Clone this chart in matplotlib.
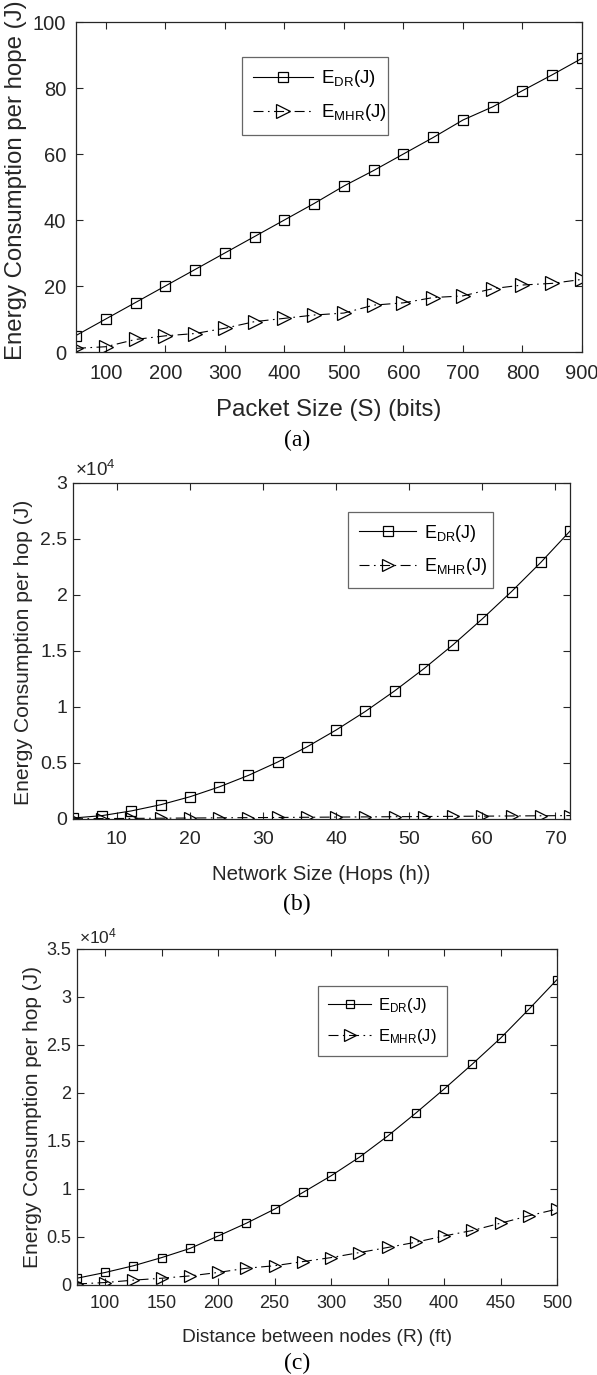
import matplotlib
matplotlib.use('Agg')
import matplotlib.pyplot as plt
from matplotlib.ticker import FuncFormatter

plt.rcParams['font.family'] = ['Liberation Sans', 'DejaVu Sans']
plt.rcParams['mathtext.fontset'] = 'custom'
plt.rcParams['mathtext.rm'] = 'Liberation Sans'
plt.rcParams['mathtext.it'] = 'Liberation Sans'

# (a) energy vs packet size
packet_size = [50, 100, 150, 200, 250, 300, 350, 400, 450, 500,
               550, 600, 650, 700, 750, 800, 850, 900]
dr_a = [5, 10, 15, 20, 25, 30, 35, 40, 45, 50.3, 55, 60, 65, 70.3, 74.3, 79.2, 84, 89]
mhr_a = [1.1, 1.6, 3.8, 4.9, 5.6, 7.2, 9.2, 10.2, 11.2, 11.8, 14.2, 14.9, 16.5, 17, 19.2, 20.3, 20.8, 22]

# (b) energy vs network size
hops = [4, 8, 12, 16, 20, 24, 28, 32, 36, 40, 44, 48, 52, 56, 60, 64, 68, 72]
dr_b = [80, 300, 720, 1270, 1980, 2860, 3890, 5080, 6430, 7940, 9600,
        11430, 13410, 15550, 17860, 20300, 22900, 25700]
mhr_b = [17, 33, 50, 67, 83, 100, 117, 133, 150, 167, 183, 200,
         217, 233, 250, 267, 283, 300]

# (c) energy vs distance
distance = [75, 100, 125, 150, 175, 200, 225, 250, 275, 300,
            325, 350, 375, 400, 425, 450, 475, 500]
dr_c = [700, 1300, 2000, 2850, 3800, 5100, 6430, 7900, 9630, 11370,
        13300, 15500, 17900, 20400, 23000, 25700, 28700, 31800]
mhr_c = [100, 250, 500, 700, 940, 1300, 1740, 2000, 2430, 2850,
         3370, 3900, 4450, 5100, 5670, 6430, 7200, 7900]

labels = [r'$\mathregular{E_{DR}(J)}$', r'$\mathregular{E_{MHR}(J)}$']
ink = '#262626'

fig = plt.figure(figsize=(5.97, 13.75), dpi=100)

panels = [
    dict(rect=[0.1273, 0.744, 0.8476, 0.240], x=packet_size, dr=dr_a, mhr=mhr_a,
         xlim=(50, 900), xticks=range(100, 901, 100), ylim=(0, 100),
         yticks=range(0, 101, 20), sci=False,
         xlabel='Packet Size (S) (bits)', ylabel='Energy Consumption per hope (J)',
         xlab_y=-0.176, ylab_x=-0.118, ylab_y=0.52, tick_fs=14.5, xlab_fs=17.3, ylab_fs=17.3,
         xpad=8.5, ypad=7, leg=(0.328, 0.894, 0.289, 0.239), leg_fs=13.5, hl=3.2,
         expand=True, ms=7.5),
    dict(rect=[0.1223, 0.4044, 0.8325, 0.2444], x=hops, dr=dr_b, mhr=mhr_b,
         xlim=(4, 72), xticks=range(10, 71, 10), ylim=(0, 30000),
         yticks=range(0, 30001, 5000), sci=True,
         xlabel='Network Size (Hops (h))', ylabel='Energy Consumption per hop (J)',
         xlab_y=-0.164, ylab_x=-0.10, ylab_y=0.497, tick_fs=14, xlab_fs=14.8, ylab_fs=15.2,
         xpad=8.5, ypad=4, leg=(0.553, 0.914, 0.292, 0.221), leg_fs=13, hl=3.2,
         expand=True, ms=6.8),
    dict(rect=[0.129, 0.0655, 0.804, 0.2444], x=distance, dr=dr_c, mhr=mhr_c,
         xlim=(75, 500), xticks=range(100, 501, 50), ylim=(0, 35000),
         yticks=range(0, 35001, 5000), sci=True,
         xlabel='Distance between nodes (R) (ft)', ylabel='Energy Consumption per hop (J)',
         xlab_y=-0.155, ylab_x=-0.092, ylab_y=0.5, tick_fs=13, xlab_fs=13.8, ylab_fs=15,
         xpad=7.5, ypad=4, leg=(0.502, 0.89, 0.258, 0.205), leg_fs=12, hl=2.6,
         expand=False, ms=6.2),
]

captions = ['(a)', '(b)', '(c)']
caption_y = [0.68, 0.3425, 0.0087]

for p, cap, cy in zip(panels, captions, caption_y):
    ax = fig.add_axes(p['rect'])
    ax.plot(p['x'], p['dr'], '-', color='black', lw=0.8, marker='s', ms=p['ms'],
            mfc='none', mec='black', mew=0.9, label=labels[0])
    ax.plot(p['x'], p['mhr'], '-.', color='black', lw=0.8, marker='>', ms=p['ms'] + 2,
            mfc='none', mec='black', mew=0.9, label=labels[1], dashes=(9, 4, 1.5, 4))
    ax.set_xlim(p['xlim'])
    ax.set_ylim(p['ylim'])
    ax.set_xticks(list(p['xticks']))
    ax.set_yticks(list(p['yticks']))
    if p['sci']:
        ax.yaxis.set_major_formatter(FuncFormatter(lambda v, pos: f'{v / 1e4:g}'))
        ax.text(0.005, 1.008, r'$\mathregular{\times10^{4}}$', transform=ax.transAxes,
                ha='left', va='bottom', fontsize=p['tick_fs'] - 0.5, color=ink)
    ax.tick_params(direction='in', top=True, right=True, length=5, width=0.8,
                   colors=ink, labelsize=p['tick_fs'])
    ax.tick_params(axis='x', pad=p['xpad'])
    ax.tick_params(axis='y', pad=p['ypad'])
    for s in ax.spines.values():
        s.set_color(ink)
        s.set_linewidth(0.9)
    ax.set_xlabel(p['xlabel'], fontsize=p['xlab_fs'], color=ink, va='center')
    ax.xaxis.set_label_coords(0.5, p['xlab_y'])
    ax.set_ylabel(p['ylabel'], fontsize=p['ylab_fs'], color=ink, va='center')
    ax.yaxis.set_label_coords(p['ylab_x'], p['ylab_y'])

    x0, ytop, w, h = p['leg']
    if p['expand']:
        anchor = dict(bbox_to_anchor=(x0, ytop - h, w, h), mode='expand')
    else:
        anchor = dict(bbox_to_anchor=(x0, ytop))
    leg = ax.legend(loc='upper left', borderaxespad=0, fontsize=p['leg_fs'], numpoints=1,
                    handlelength=p['hl'], handletextpad=0.4, labelspacing=0.7,
                    borderpad=0.6, fancybox=False, framealpha=1, **anchor)
    leg.get_frame().set_edgecolor('0.4')
    leg.get_frame().set_linewidth(0.9)

    fig.text(0.4975, cy, cap, ha='center', va='center', fontsize=17,
             family='Liberation Serif', color='black')

fig.savefig('out.png', dpi=100)
